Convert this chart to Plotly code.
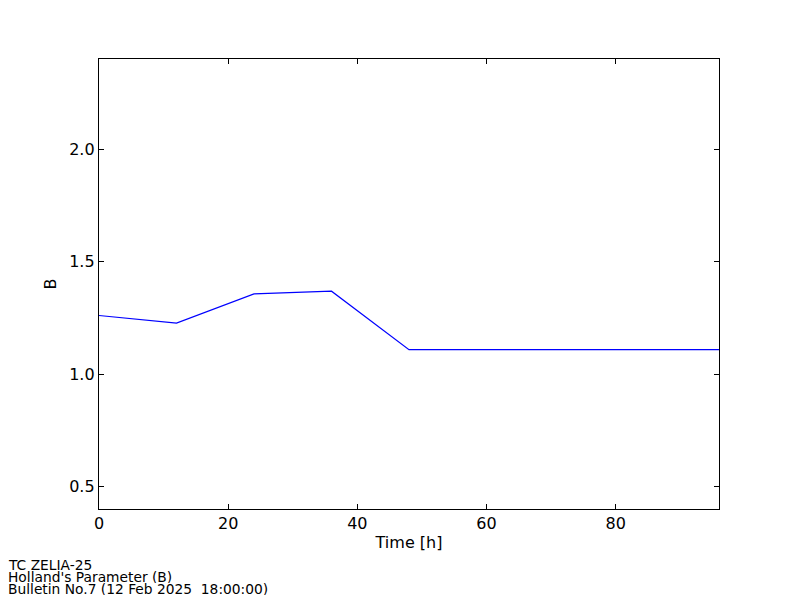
import plotly.graph_objects as go

time_h = [0, 12, 24, 36, 48, 60, 72, 84, 96]
b_values = [1.260, 1.226, 1.356, 1.368, 1.108, 1.108, 1.108, 1.108, 1.108]

x_ticks = [0, 20, 40, 60, 80]
y_ticks = [0.5, 1.0, 1.5, 2.0]

footer_lines = ["TC ZELIA-25", "Holland's Parameter (B)",
                "Bulletin No.7 (12 Feb 2025 \u00a018:00:00)"]

# page has an 8px body margin; figure is 792x592 placed at (8,8)
W, H = 792, 592
L, T = 91, 51
PW, PH = 620, 450

fig = go.Figure()
fig.add_trace(go.Scatter(x=time_h, y=b_values, mode="lines",
                         line=dict(color="#0000ff", width=1.2), showlegend=False))

font = dict(family="DejaVu Sans", size=16, color="black")
axis_common = dict(showline=True, linecolor="black", linewidth=1.3, mirror="allticks",
                   ticks="inside", ticklen=5, tickcolor="black", tickwidth=1,
                   showgrid=False, zeroline=False, tickfont=font)

fig.update_xaxes(range=[0, 96], tickvals=x_ticks, ticktext=[str(v) for v in x_ticks],
                 title=dict(text="Time [h]", font=font, standoff=4), **axis_common)
fig.update_yaxes(range=[0.4, 2.4], tickvals=y_ticks, ticktext=[f"{v:.1f}" for v in y_ticks],
                 title=dict(text="B", font=font, standoff=8), **axis_common)

ys = [565 - 8, 577 - 8, 589 - 8]
for txt, yp in zip(footer_lines, ys):
    fig.add_annotation(text=txt, xref="paper", yref="paper",
                       x=(-1 - L) / PW, y=(T + PH - yp) / PH,
                       xanchor="left", yanchor="middle", showarrow=False,
                       borderpad=0, height=12,
                       font=dict(family="DejaVu Sans", size=13.8, color="black"))

fig.update_layout(width=W, height=H, margin=dict(l=L, r=W - L - PW, t=T, b=H - T - PH),
                  plot_bgcolor="white", paper_bgcolor="white")

fig.write_html("out.html")
